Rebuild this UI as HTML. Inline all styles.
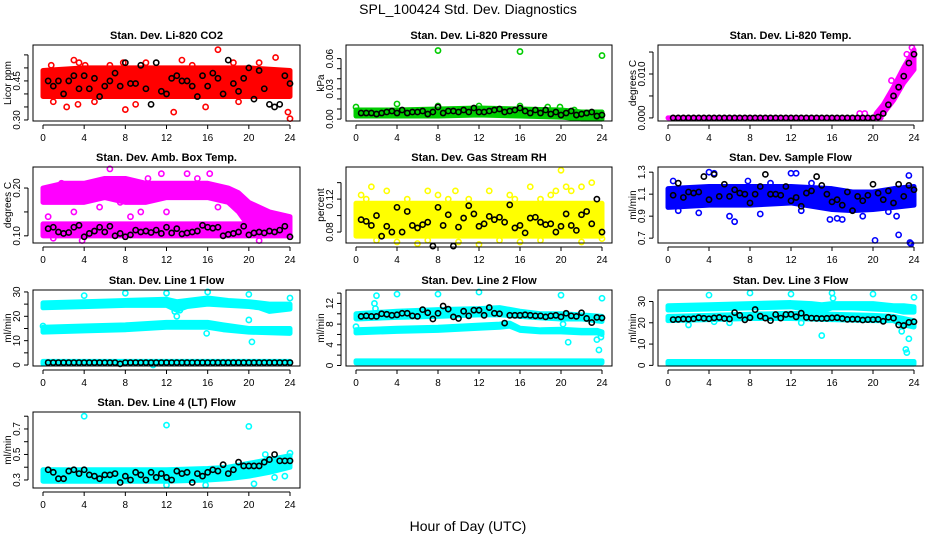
<!DOCTYPE html>
<html><head><meta charset="utf-8">
<style>
body{margin:0;background:#fff;}
svg{display:block;font-family:"Liberation Sans",Arial,sans-serif;}
</style></head>
<body>
<svg id="chart" width="936" height="540" viewBox="0 0 936 540" xmlns="http://www.w3.org/2000/svg">
<rect width="936" height="540" fill="#fff"/>
<text x="468" y="14" font-size="14" text-anchor="middle">SPL_100424  Std. Dev. Diagnostics</text>
<text x="468" y="531" font-size="14" text-anchor="middle">Hour of Day (UTC)</text>
<g id="plots"></g>
</svg>
<script>
// ---- data ----
const hours = [0.5,1,1.5,2,2.5,3,3.5,4,4.5,5,5.5,6,6.5,7,7.5,8,8.5,9,9.5,10,10.5,11,11.5,12,12.5,13,13.5,14,14.5,15,15.5,16,16.5,17,17.5,18,18.5,19,19.5,20,20.5,21,21.5,22,22.5,23,23.5,24];
const xTicks = [0,4,8,12,16,20,24];

const co2Bands = [{h:[0,4,8,12,16,20,24],lo:[0.39,0.39,0.39,0.39,0.39,0.39,0.39],hi:[0.49,0.50,0.50,0.50,0.50,0.50,0.49]}];
const co2OutX = [0.8,3,3.5,4.1,7.8,13.5,17,18.5,22.6,2.3,3.4,8,15.8,23.8,24,12.7,9,1,5,19,10,14.5,21,6.5];
const co2OutY = [0.51,0.53,0.52,0.51,0.52,0.53,0.57,0.52,0.54,0.35,0.36,0.34,0.35,0.33,0.305,0.33,0.36,0.37,0.37,0.37,0.52,0.51,0.52,0.51];
const co2Black = [0.45,0.43,0.45,0.40,0.45,0.47,0.42,0.47,0.42,0.46,0.39,0.43,0.45,0.48,0.43,0.52,0.44,0.44,0.51,0.42,0.36,0.52,0.41,0.40,0.46,0.47,0.45,0.45,0.43,0.39,0.47,0.43,0.48,0.46,0.40,0.53,0.44,0.41,0.46,0.50,0.38,0.49,0.42,0.36,0.35,0.36,0.47,0.44];

const presBands = [{h:[0,4,8,12,16,20,22,24],lo:[0.003,0.003,0.003,0.004,0.003,0.002,0.0,0.0],hi:[0.009,0.009,0.010,0.011,0.010,0.009,0.007,0.007]}];
const presOutX = [8,16,24,4,0,8,16,18.7,19.9,12,21.3];
const presOutY = [0.068,0.067,0.063,0.015,0.012,0.013,0.013,0.012,0.012,0.013,0.009];
const presBlack = [0.006,0.006,0.006,0.005,0.006,0.007,0.008,0.006,0.009,0.006,0.007,0.007,0.008,0.005,0.007,0.012,0.006,0.008,0.008,0.007,0.009,0.007,0.011,0.007,0.007,0.008,0.009,0.010,0.007,0.008,0.009,0.011,0.008,0.006,0.009,0.006,0.009,0.005,0.007,0.004,0.006,0.008,0.004,0.005,0.006,0.007,0.003,0.004];

const liTempBands = [{h:[0,20.8],lo:[0,0],hi:[0,0]},{h:[20.3,21,22,23,24],lo:[0,0.001,0.004,0.008,0.011],hi:[0.001,0.003,0.007,0.0115,0.0155]}];
const liTempOutX = [18.7,19.2,21.8,23.3,23.8,20.5];
const liTempOutY = [0.001,0.001,0.0085,0.0145,0.016,0.0012];
const liTempBlack = [0,0,0,0,0,0,0,0,0,0,0,0,0,0,0,0,0,0,0,0,0,0,0,0,0,0,0,0,0,0,0,0,0,0,0,0,0,0,0,0,0.0002,0.001,0.003,0.005,0.007,0.0095,0.0125,0.0145];

const boxBands = [{h:[0,2,4,6,8,10,12,14,16,18,19,20,22,24],lo:[0.17,0.17,0.17,0.18,0.17,0.17,0.18,0.18,0.18,0.17,0.15,0.12,0.12,0.11],hi:[0.20,0.21,0.21,0.22,0.22,0.21,0.21,0.21,0.21,0.20,0.19,0.17,0.15,0.14]},{h:[0,24],lo:[0.10,0.10],hi:[0.125,0.125]}];
const boxOutX = [0.5,1.8,3,6.5,9,14,16.2,15,10.2,9.5,5.5,8.5,3.8,1,21,23.5,17,12,7.5,11.5];
const boxOutY = [0.14,0.21,0.15,0.24,0.11,0.23,0.23,0.22,0.22,0.15,0.16,0.14,0.09,0.095,0.09,0.14,0.16,0.15,0.17,0.23];
const boxBlack = [0.115,0.118,0.108,0.105,0.107,0.118,0.122,0.098,0.105,0.110,0.118,0.108,0.120,0.100,0.105,0.098,0.102,0.112,0.108,0.110,0.107,0.112,0.105,0.118,0.106,0.115,0.104,0.106,0.108,0.110,0.122,0.118,0.116,0.118,0.100,0.103,0.105,0.108,0.120,0.102,0.106,0.108,0.106,0.110,0.108,0.112,0.120,0.098];

const rhBands = [{h:[0,24],lo:[0.075,0.075],hi:[0.115,0.115]}];
const rhOutX = [0.5,1.5,3,5,7,8,9.7,11,13,15,17,18,19.5,20.5,21,22,23,20,2,4,7,10,14,16,18,22,24,12,6,1,9,15.5,19];
const rhOutY = [0.125,0.135,0.13,0.12,0.13,0.125,0.13,0.12,0.13,0.125,0.135,0.12,0.13,0.135,0.13,0.135,0.14,0.155,0.07,0.068,0.07,0.068,0.07,0.068,0.07,0.068,0.072,0.065,0.066,0.12,0.12,0.12,0.125];
const rhBlack = [0.095,0.093,0.088,0.100,0.075,0.087,0.080,0.110,0.080,0.105,0.088,0.085,0.089,0.092,0.063,0.110,0.088,0.101,0.063,0.086,0.097,0.112,0.102,0.087,0.090,0.099,0.095,0.098,0.092,0.113,0.085,0.088,0.079,0.097,0.098,0.092,0.089,0.090,0.080,0.087,0.102,0.088,0.082,0.101,0.105,0.090,0.120,0.080];

const flowBands = [{h:[0,4,8,12,16,18,20,22,24],lo:[0.98,1.0,1.0,1.02,0.96,0.95,0.96,0.98,1.0],hi:[1.15,1.17,1.17,1.17,1.15,1.12,1.12,1.15,1.17]}];
const flowOutX = [4,4.5,12,12.5,15.8,16.5,20.2,22.5,23.6,23.7,6,6.5,1,9,23.5,7.8,0.5,17,19,21.5,22.3,3,13,10,14];
const flowOutY = [1.30,1.29,1.29,1.29,0.87,0.88,0.68,0.73,0.66,0.65,0.9,0.85,0.95,0.92,1.27,1.22,1.22,0.87,0.9,0.94,0.9,0.93,0.95,1.2,1.2];
const flowBlack = [1.09,1.20,1.07,1.12,1.11,1.12,1.26,1.05,1.28,1.08,1.19,1.08,1.14,1.11,1.10,1.02,1.10,1.17,1.28,1.10,1.10,1.09,1.17,1.04,1.07,0.99,1.11,1.13,1.26,1.18,1.10,1.03,1.05,1.00,1.12,0.95,1.08,1.04,1.09,1.19,1.11,1.05,1.13,1.02,1.19,1.08,1.18,1.14];

const line1Bands = [{h:[0,4,8,12,13,14,16,18,20,21,22,24],lo:[23.5,24,24.5,24.5,22.5,24,25,24.5,24,23.5,22,23],hi:[25.5,26,26.5,27,26,26.5,27.5,26.5,26,25.5,25,25]},{h:[0,4,8,12,16,17.5,20,24],lo:[13.5,14,14.5,15.5,15.5,14.5,13.5,13],hi:[15.5,16,16.5,17.5,17.5,16.5,15,15]},{h:[0,24],lo:[0.5,0.5],hi:[1.5,1.5]}];
const line1OutX = [4,8,12,16,20,24,13,15.9,20,20.3,0,10.7,12.8,13.3];
const line1OutY = [28.5,29.5,29.5,30,29,27.5,20,13,18.5,9.5,16,0,22,22.5];
const line1Black = [1,1,1,1,1,1,1,1,1,1,1,1,1,1,0.5,1,1,1,1,1,1,1,1,1,1,1,1,1,1,1,1,1,1,1,1,1,1,1,1,1,1,1,1,1,1,1,1,1];

const line2Bands = [{h:[0,4,8,12,14,16,18,20,22,24],lo:[9,9.3,9.5,9.8,9.8,9.5,9.2,9,9,8.5],hi:[10,10.5,10.8,11,11.2,10.5,10,10,9.8,9.5]},{h:[0,4,8,12,14,15,16,18,20,22,23.5,24],lo:[6.3,6.6,6.8,7.2,7.4,7.6,6.8,6.5,6.5,6.3,6.3,6.0],hi:[6.9,7.2,7.4,7.8,8,8.2,7.2,6.9,7.0,6.8,6.8,6.5]},{h:[0,24],lo:[0.5,0.5],hi:[0.9,0.9]}];
const line2OutX = [0,2,4,8,12,20,24,20.2,20.7,23.5,23.7,23.9,1.8,1.9];
const line2OutY = [7.5,13.5,13.8,13.8,14.2,13.6,13,8,4.5,5,3,5.5,12,11];
const line2Black = [9.5,9.6,9.5,9.5,10,9.9,9.7,9.8,10.1,10.1,9.6,9.5,10.8,10.2,9,10.1,11.5,10.9,9.4,9.1,10.5,9.6,10.7,10.7,9.7,11.2,10.1,10,8.2,9.7,9.7,9.7,9.8,9.7,9.6,9.6,9.4,9.6,9.7,9.4,10.1,9.6,9.5,10.2,9.1,8.3,9.3,9.2];

const line3Bands = [{h:[0,4,8,12,14,15,16,18,20,22,23,24],lo:[26,26.5,27,27.5,26,25.5,27,27,26.5,26,25,25],hi:[28,28.5,29,29.5,29,28.5,29,29,29,28,28,27.5]},{h:[0,4,8,12,16,20,22,23,24],lo:[21,21.5,22,22,21.5,21,21,19,18],hi:[23,23.5,24,24.5,24,23.5,23,22,21]},{h:[0,24],lo:[0.6,0.6],hi:[1.8,1.8]}];
const line3OutX = [4,8,12,16,16.1,20,24,15,22.8,23.5,23.2,23.3,2,6,13,4.5];
const line3OutY = [33,34,33.5,34,31.5,33.5,32,14,16,12.5,7.5,6,19,20,20,20.5];
const line3Black = [21.5,21.6,21.8,21.7,21.9,22.4,22.1,21.9,22.3,22.5,22,21.8,24.8,23.5,21.4,22.4,26.2,23.1,22.2,21.0,23.9,22.2,23.9,24.0,22.8,24.5,22.5,22.2,22.1,22.0,22.1,22.3,22.4,22.0,21.6,21.7,21.7,21.3,21.5,21.5,21.6,20.7,22.6,22.2,19.0,18.7,20.2,20.5];

const line4Bands = [{h:[0,4,8,12,16,18,20,22,24],lo:[0.29,0.29,0.29,0.29,0.30,0.31,0.33,0.36,0.40],hi:[0.38,0.38,0.38,0.38,0.39,0.40,0.43,0.46,0.49]}];
const line4OutX = [4,12,20,21.6,24,15.8,20.5,22.5,23.5,12];
const line4OutY = [0.80,0.73,0.72,0.50,0.51,0.26,0.27,0.32,0.33,0.26];
const line4Black = [0.38,0.36,0.31,0.31,0.37,0.38,0.35,0.38,0.34,0.33,0.31,0.34,0.34,0.35,0.28,0.33,0.30,0.36,0.34,0.30,0.36,0.32,0.35,0.32,0.30,0.37,0.35,0.36,0.28,0.35,0.33,0.36,0.38,0.37,0.42,0.35,0.38,0.44,0.41,0.41,0.41,0.41,0.44,0.46,0.50,0.45,0.45,0.45];

// ---- layout ----
const cols = [{l:33,r:300,x0:43,x24:290},{l:346,r:612,x0:356,x24:602},{l:658,r:923,x0:668,x24:914}];
const rows = [{t:45,b:121},{t:167,b:243},{t:290,b:366},{t:412,b:488}];
const panels = [
 {name:'co2',title:'Stan. Dev. Li-820 CO2',yl:'Licor ppm',c:0,r:0,col:'#ff0000',dom:[0.296,0.588],ticks:[0.30,0.35,0.40,0.45,0.50,0.55],labels:[0.30,0.45],dp:2,bands:co2Bands,ox:co2OutX,oy:co2OutY,bk:co2Black},
 {name:'pressure',title:'Stan. Dev. Li-820 Pressure',yl:'kPa',c:1,r:0,col:'#00cc00',dom:[-0.0019,0.0735],ticks:[0,0.01,0.02,0.03,0.04,0.05,0.06],labels:[0,0.03,0.06],dp:2,bands:presBands,ox:presOutX,oy:presOutY,bk:presBlack},
 {name:'li820-temp',title:'Stan. Dev. Li-820 Temp.',yl:'degrees C',c:2,r:0,col:'#ff00ff',dom:[-0.0007,0.0166],ticks:[0,0.005,0.010,0.015],labels:[0,0.010],dp:3,bands:liTempBands,ox:liTempOutX,oy:liTempOutY,bk:liTempBlack},
 {name:'box-temp',title:'Stan. Dev. Amb. Box Temp.',yl:'degrees C',c:0,r:1,col:'#ff00ff',dom:[0.085,0.244],ticks:[0.10,0.15,0.20],labels:[0.10,0.20],dp:2,bands:boxBands,ox:boxOutX,oy:boxOutY,bk:boxBlack},
 {name:'gas-rh',title:'Stan. Dev. Gas Stream RH',yl:'percent',c:1,r:1,col:'#ffff00',dom:[0.0667,0.159],ticks:[0.08,0.10,0.12,0.14],labels:[0.08,0.12],dp:2,bands:rhBands,ox:rhOutX,oy:rhOutY,bk:rhBlack},
 {name:'sample-flow',title:'Stan. Dev. Sample Flow',yl:'ml/min',c:2,r:1,col:'#0000ff',dom:[0.656,1.347],ticks:[0.7,0.9,1.1,1.3],labels:[0.7,0.9,1.1,1.3],dp:1,bands:flowBands,ox:flowOutX,oy:flowOutY,bk:flowBlack},
 {name:'line1-flow',title:'Stan. Dev. Line 1 Flow',yl:'ml/min',c:0,r:2,col:'#00ffff',dom:[-0.4,30.8],ticks:[0,5,10,15,20,25,30],labels:[0,10,20,30],dp:0,bands:line1Bands,ox:line1OutX,oy:line1OutY,bk:line1Black},
 {name:'line2-flow',title:'Stan. Dev. Line 2 Flow',yl:'ml/min',c:1,r:2,col:'#00ffff',dom:[-0.1,14.6],ticks:[0,2,4,6,8,10,12,14],labels:[0,4,8,12],dp:0,bands:line2Bands,ox:line2OutX,oy:line2OutY,bk:line2Black},
 {name:'line3-flow',title:'Stan. Dev. Line 3 Flow',yl:'ml/min',c:2,r:2,col:'#00ffff',dom:[-0.3,35.4],ticks:[0,10,20,30],labels:[0,10,20,30],dp:0,bands:line3Bands,ox:line3OutX,oy:line3OutY,bk:line3Black},
 {name:'line4-flow',title:'Stan. Dev. Line 4 (LT) Flow',yl:'ml/min',c:0,r:3,col:'#00ffff',dom:[0.237,0.833],ticks:[0.3,0.4,0.5,0.6,0.7,0.8],labels:[0.3,0.5,0.7],dp:1,bands:line4Bands,ox:line4OutX,oy:line4OutY,bk:line4Black}
];

const NS='http://www.w3.org/2000/svg';
const root=document.getElementById('plots');
function mk(tag,attrs,parent){const e=document.createElementNS(NS,tag);for(const k in attrs)e.setAttribute(k,attrs[k]);parent.appendChild(e);return e;}

panels.forEach(p=>{
  const C=cols[p.c],R=rows[p.r];
  const xs=h=>C.x0+(C.x24-C.x0)*h/24;
  const ys=v=>R.b-(v-p.dom[0])/(p.dom[1]-p.dom[0])*(R.b-R.t);
  const g=mk('g',{},root);
  
  
  const t=mk('text',{x:(C.l+C.r)/2,y:R.t-6,'font-size':11,'font-weight':'bold','text-anchor':'middle'},g);
  t.textContent=p.title;
  
  
  p.bands.forEach(b=>{
    let pts=[];
    b.h.forEach((h,i)=>pts.push(xs(h)+','+ys(b.hi[i])));
    for(let i=b.h.length-1;i>=0;i--)pts.push(xs(b.h[i])+','+ys(b.lo[i]));
    const pg=mk('polygon',{points:pts.join(' '),fill:p.col,stroke:p.col,'stroke-width':5,'stroke-linejoin':'round'},g);
    
    
  });
  p.ox.forEach((h,i)=>{
    const c=mk('circle',{cx:xs(h),cy:ys(p.oy[i]),r:2.6,fill:'none',stroke:p.col,'stroke-width':1.6},g);
    
    
  });
  const n=Math.min(hours.length,p.bk.length);
  for(let i=0;i<n;i++){
    const c=mk('circle',{cx:xs(hours[i]),cy:ys(p.bk[i]),r:2.6,fill:'none',stroke:'#000','stroke-width':1.6},g);
    
    
  }
  const box=mk('rect',{x:C.l,y:R.t,width:C.r-C.l,height:R.b-R.t,fill:'none',stroke:'#000','stroke-width':1},g);
  
  
  const xa=mk('g',{},g);
  
  
  mk('line',{x1:xs(0),x2:xs(24),y1:R.b+4,y2:R.b+4,stroke:'#000'},xa);
  xTicks.forEach(h=>{
    mk('line',{x1:xs(h),x2:xs(h),y1:R.b+4,y2:R.b+8,stroke:'#000'},xa);
    const tl=mk('text',{x:xs(h),y:R.b+20,'font-size':10,'text-anchor':'middle'},xa);
    tl.textContent=h;
  });
  const ya=mk('g',{},g);
  
  
  const ax=C.l-5;
  mk('line',{x1:ax,x2:ax,y1:ys(p.ticks[0]),y2:ys(p.ticks[p.ticks.length-1]),stroke:'#000'},ya);
  p.ticks.forEach(v=>mk('line',{x1:ax-4,x2:ax,y1:ys(v),y2:ys(v),stroke:'#000'},ya));
  p.labels.forEach(v=>{
    const x=ax-8,y=ys(v);
    const tl=mk('text',{x:x,y:y,'font-size':10,'text-anchor':'middle',transform:`rotate(-90 ${x} ${y})`},ya);
    tl.textContent=v.toFixed(p.dp);
  });
  const yx=C.l-22,yy=(R.t+R.b)/2;
  const yt=mk('text',{x:yx,y:yy,'font-size':10,'text-anchor':'middle',transform:`rotate(-90 ${yx} ${yy})`},g);
  yt.textContent=p.yl;
  
  
});
</script>
</body></html>
